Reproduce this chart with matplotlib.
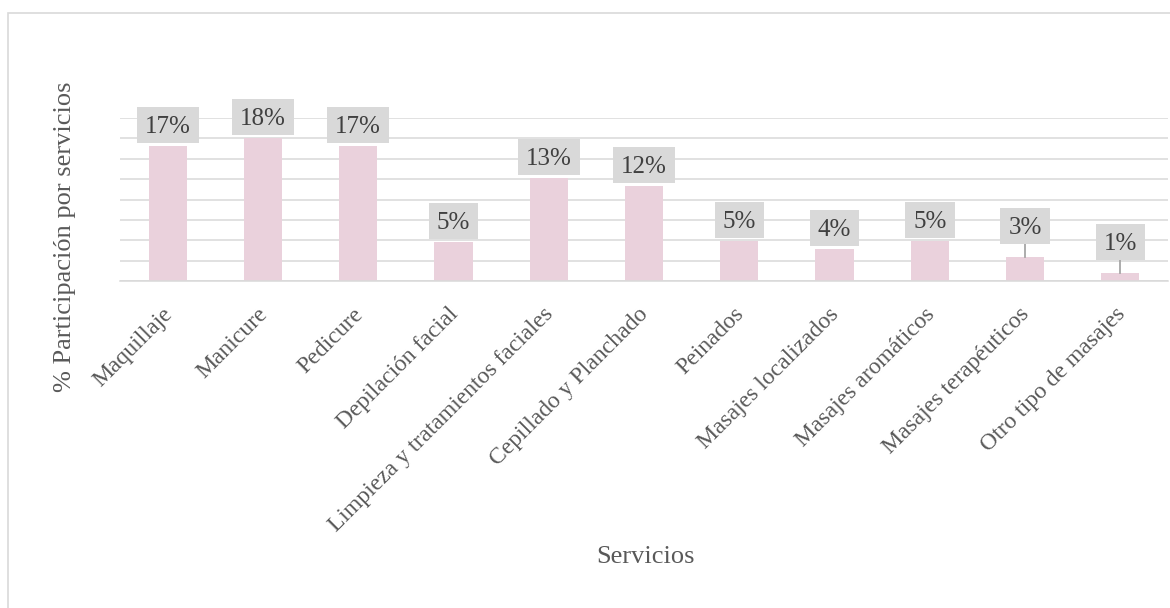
import matplotlib.pyplot as plt
import matplotlib.transforms as mtransforms
from matplotlib.patches import Rectangle
import numpy as np

# Data
servicios = ["Maquillaje", "Manicure", "Pedicure", "Depilación facial",
             "Limpieza y tratamientos faciales", "Cepillado y Planchado",
             "Peinados", "Masajes localizados", "Masajes aromáticos",
             "Masajes terapéuticos", "Otro tipo de masajes"]
participacion = [16.6, 17.6, 16.6, 4.8, 12.6, 11.6, 4.9, 3.9, 4.9, 2.95, 1.0]
etiquetas = ["17%", "18%", "17%", "5%", "13%", "12%", "5%", "4%", "5%", "3%", "1%"]

# Style
plt.rcParams['font.family'] = ['Liberation Serif', 'DejaVu Serif']
bar_color = "#EAD1DC"
grid_color = "#D9D9D9"
text_color = "#595959"
DPI = 100

fig = plt.figure(figsize=(11.7, 6.08), dpi=DPI)
ax = fig.add_axes([120 / 1170, 1 - 281 / 608, 1048 / 1170, 163 / 608])

x = np.arange(len(servicios))
ax.bar(x, participacion, width=0.4, color=bar_color, zorder=2)

ax.set_xlim(-0.5, len(servicios) - 0.5)
ax.set_ylim(0, 20)
ax.set_yticks(np.arange(0, 20.1, 2.5))
ax.yaxis.grid(True, color=grid_color, linewidth=1.1, zorder=0)
ax.set_axisbelow(True)
ax.tick_params(axis='y', left=False, labelleft=False)
ax.tick_params(axis='x', bottom=False, pad=10)
for s in ["top", "right", "left"]:
    ax.spines[s].set_visible(False)
ax.spines["bottom"].set_color(grid_color)
ax.spines["bottom"].set_linewidth(1.1)

ax.set_xticks(x)
ax.set_xticklabels(servicios, rotation=45, ha='right', rotation_mode='anchor',
                   fontsize=17, color=text_color)
shift = mtransforms.ScaledTranslation(-6 / DPI, -4 / DPI, fig.dpi_scale_trans)
for t in ax.get_xticklabels():
    t.set_transform(t.get_transform() + shift)

# Data labels in grey boxes (pixel sizes converted to inches)
fig.canvas.draw()
renderer = fig.canvas.get_renderer()
for xi, v, lab in zip(x, participacion, etiquetas):
    anchor = fig.dpi_scale_trans + mtransforms.ScaledTranslation(xi, v, ax.transData)
    gap = 13 if v < 3.5 else 3
    if v < 3.5:
        ax.plot([0, 0], [0, gap / DPI], color="#A6A6A6", lw=1.3,
                transform=anchor, zorder=3, clip_on=False)
    t = ax.text(0, (gap + 10) / DPI, lab, ha='center', va='baseline',
                fontsize=18, color="#404040", transform=anchor, zorder=5)
    w = t.get_window_extent(renderer).width / DPI + 16 / DPI
    ax.add_patch(Rectangle((-w / 2, gap / DPI), w, 36 / DPI, transform=anchor,
                           fc="#D9D9D9", ec='none', zorder=4, clip_on=False))

# Axis titles
fig.text(65 / 1170, 1 - 237 / 608, "% Participación por servicios", rotation=90,
         ha='center', va='center', fontsize=19, color=text_color)
fig.text(645 / 1170, 1 - 557 / 608, "Servicios", ha='center', va='center',
         fontsize=19, color=text_color)

# Chart border (cropped at right and bottom)
fig.patches.append(Rectangle((8 / 1170, -0.1), 1.2, 1.1 - 13 / 608,
                             transform=fig.transFigure, fill=False,
                             ec=grid_color, lw=1.2, zorder=0))

fig.savefig("out.png", dpi=DPI)
